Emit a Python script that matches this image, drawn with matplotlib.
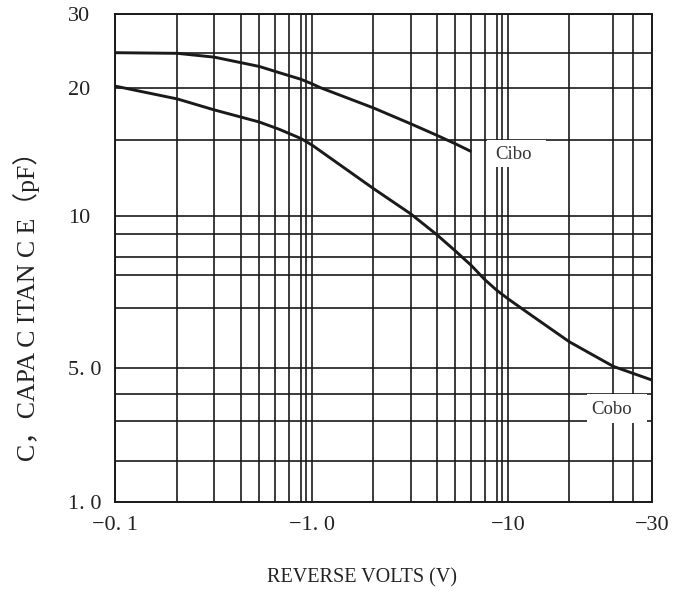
import numpy as np
import matplotlib
matplotlib.use('Agg')
import matplotlib.pyplot as plt
from matplotlib.patches import Rectangle
from matplotlib.ticker import FixedLocator, NullFormatter

plt.rcParams['font.family'] = ['Liberation Serif', 'Noto Sans CJK SC', 'DejaVu Sans']

# the printed chart paper is not a true log grid, so the grid lines are
# placed where the original put them (position in px along each axis)
x_grid = [0.1, 0.2, 0.3, 0.4, 0.5, 0.6, 0.7, 0.8, 0.9, 1, 2, 3, 4, 5, 6, 7, 8, 9, 10, 20, 24, 27, 30]
x_grid_pos = [0, 62, 99, 125.4, 144, 160, 173.4, 185.7, 190.7, 196.7, 258, 295.4, 321.4, 340,
              356, 369.4, 381.4, 386.7, 392.7, 454, 498, 518, 536.4]
y_grid = [1, 2, 3, 4, 5, 6, 7, 8, 9, 10, 15, 20, 25, 30]
y_grid_pos = [0, 41, 81.6, 108.6, 134.6, 194.6, 227, 245, 268.6, 286.6, 362.3, 414.6, 449.6, 488.3]

# reverse volts (shown as negative) vs capacitance pF
cibo_v = [0.1, 0.2, 0.3, 0.5, 0.63, 0.8, 1.0, 1.1, 2, 3, 4, 5, 6]
cibo_c = [25.0, 24.9, 24.3, 22.9, 22.0, 21.1, 20.5, 20.0, 17.9, 16.4, 15.4, 14.7, 14.1]
cobo_v = [0.1, 0.2, 0.3, 0.5, 0.63, 0.8, 1.0, 2, 3, 4, 5, 6, 7, 8, 10, 13.3, 20, 24, 30]
cobo_c = [20.2, 18.8, 17.7, 16.56, 15.9, 15.12, 14.6, 11.57, 10.1, 8.96, 8.26, 7.53, 6.86,
          6.52, 6.26, 5.84, 5.41, 5.02, 4.5]

x_ticks = [0.1, 1, 10, 30]
x_labels = ['−0. 1', '−1. 0', '−10', '−30']
y_ticks = [1, 5, 10, 20, 30]
y_labels = ['1. 0', '5. 0', '10', '20', '30']


def make_scale(knots, pos):
    lk = np.log10(knots)
    pos = np.asarray(pos, float)

    def fwd(v):
        v = np.clip(np.asarray(v, float), 1e-6, None)
        return np.interp(np.log10(v), lk, pos)

    def inv(p):
        return 10 ** np.interp(np.asarray(p, float), pos, lk)
    return fwd, inv


fig = plt.figure(figsize=(6.73, 5.94), dpi=100)
ax = fig.add_axes([115.3 / 673, (594 - 502.3) / 594, 536.4 / 673, 488.3 / 594])

ax.set_xscale('function', functions=make_scale(x_grid, x_grid_pos))
ax.set_yscale('function', functions=make_scale(y_grid, y_grid_pos))
ax.set_xlim(0.1, 30)
ax.set_ylim(1, 30)

ax.plot(cibo_v, cibo_c, color='#1a1a1a', lw=2.1, solid_capstyle='butt', zorder=3)
ax.plot(cobo_v, cobo_c, color='#1a1a1a', lw=2.1, solid_capstyle='butt', zorder=3)

ax.xaxis.set_major_locator(FixedLocator(x_ticks))
ax.xaxis.set_minor_locator(FixedLocator(x_grid))
ax.yaxis.set_major_locator(FixedLocator(y_ticks))
ax.yaxis.set_minor_locator(FixedLocator(y_grid))
ax.set_xticklabels(x_labels)
ax.set_yticklabels(y_labels)
ax.xaxis.set_minor_formatter(NullFormatter())
ax.yaxis.set_minor_formatter(NullFormatter())
ax.tick_params(which='both', length=0)
ax.tick_params(axis='x', pad=10, labelsize=16, colors='#222222')
ax.tick_params(axis='y', pad=34, labelsize=16, colors='#222222')
for lab in ax.get_yticklabels():
    lab.set_horizontalalignment('left')

ax.set_axisbelow(True)
ax.grid(which='both', color='#1a1a1a', lw=1.2)
for s in ax.spines.values():
    s.set_linewidth(1.4)
    s.set_color('#1a1a1a')

# white label boxes that break the grid
ax.add_patch(Rectangle((0.693, 0.6867), 0.110, 0.0553, transform=ax.transAxes,
                       facecolor='white', edgecolor='none', zorder=1))
ax.add_patch(Rectangle((0.8794, 0.1624), 0.1119, 0.0594, transform=ax.transAxes,
                       facecolor='white', edgecolor='none', zorder=1))
ax.text(0.743, 0.713, 'Cibo', transform=ax.transAxes, ha='center', va='center',
        fontsize=13.5, color='#333333', zorder=4)
ax.text(0.926, 0.191, 'Cobo', transform=ax.transAxes, ha='center', va='center',
        fontsize=13.5, color='#333333', zorder=4)

fig.text(362 / 673, 1 - 578 / 594, 'REVERSE VOLTS (V)', ha='center', va='center',
         fontsize=14.5, color='#222222')
fig.text(27 / 673, 1 - 300 / 594, 'C，CAPA C ITAN C E（pF）', rotation=90,
         ha='center', va='center', fontsize=18.5, color='#222222')

fig.savefig('out.png', dpi=100)
